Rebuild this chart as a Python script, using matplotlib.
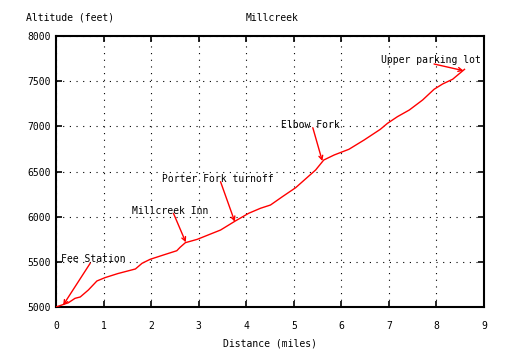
import matplotlib
matplotlib.use("Agg")
import matplotlib.pyplot as plt

# Data: distance (miles) vs altitude (feet)
distance = [0.0, 0.26, 0.40, 0.51, 0.68, 0.86, 1.03, 1.30, 1.67, 1.81, 1.98, 2.26,
            2.54, 2.61, 2.72, 2.97, 3.25, 3.46, 3.77, 4.05, 4.30, 4.51, 4.76, 5.04,
            5.46, 5.63, 5.85, 6.16, 6.48, 6.82, 6.97, 7.18, 7.43, 7.71, 7.95, 8.13,
            8.34, 8.59]
altitude = [5000, 5047, 5096, 5111, 5188, 5288, 5325, 5370, 5421, 5484, 5528, 5576,
            5623, 5661, 5712, 5749, 5808, 5852, 5952, 6037, 6093, 6129, 6221, 6321,
            6517, 6627, 6683, 6746, 6849, 6967, 7033, 7107, 7181, 7292, 7410, 7469,
            7521, 7631]

labels = ["Fee Station", "Millcreek Inn", "Porter Fork turnoff", "Elbow Fork", "Upper parking lot"]
label_pos = [(0.1, 5530), (1.6, 6063), (2.23, 6417), (4.74, 7015), (6.83, 7734)]
arrow_from = [(0.72, 5485), (2.47, 6037), (3.46, 6387), (5.40, 6985), (7.95, 7690)]
arrow_to = [(0.15, 5020), (2.73, 5716), (3.76, 5944), (5.60, 6616), (8.57, 7616)]

xticks = list(range(0, 10))
yticks = [5000, 5500, 6000, 6500, 7000, 7500, 8000]

FONT = "DejaVu Sans Mono"
FS = 7

fig = plt.figure(figsize=(5.29, 3.57), dpi=100)
ax = fig.add_axes([56/529, 50/357, 428/529, 271/357])

ax.plot(distance, altitude, color="red", lw=1.0, zorder=3)

for txt, lp, af, at in zip(labels, label_pos, arrow_from, arrow_to):
    ax.text(lp[0], lp[1], txt, ha="left", va="center", family=FONT, fontsize=FS, zorder=4)
    ax.annotate("", xy=at, xytext=af,
                arrowprops=dict(arrowstyle="->", color="red", lw=1.0,
                                shrinkA=0, shrinkB=0, mutation_scale=7), zorder=4)

ax.set_xlim(0, 9)
ax.set_ylim(5000, 8000)
ax.set_xticks(xticks)
ax.set_yticks(yticks)
ax.set_xticklabels([str(v) for v in xticks], family=FONT, fontsize=FS)
ax.set_yticklabels([str(v) for v in yticks], family=FONT, fontsize=FS)
ax.tick_params(direction="in", top=True, right=True, length=4, width=1.2,
               color="black")
ax.tick_params(axis="x", pad=10)
ax.tick_params(axis="y", pad=4)
ax.grid(True, color="black", lw=0.8, linestyle=(0, (1, 5)))
for s in ax.spines.values():
    s.set_linewidth(1.5)
    s.set_color("black")

fig.text(26/529, 1 - 18/357, "Altitude (feet)", ha="left", va="center",
         family=FONT, fontsize=FS)
fig.text(272/529, 1 - 18/357, "Millcreek", ha="center", va="center",
         family=FONT, fontsize=FS)
fig.text(270/529, 1 - 343/357, "Distance (miles)", ha="center", va="center",
         family=FONT, fontsize=FS)

fig.savefig("out.png", dpi=100)
